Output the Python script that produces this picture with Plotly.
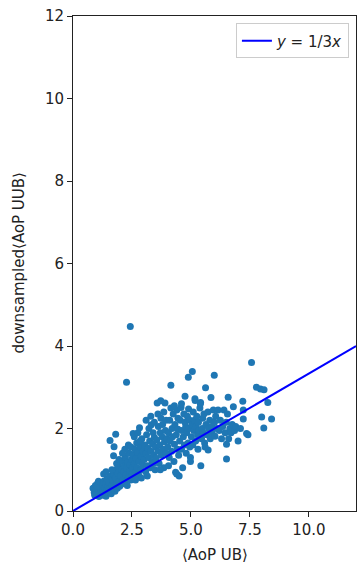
import plotly.graph_objects as go

# Scatter data (x = <AoP UB>, y = downsampled<AoP UUB>)
pts = [
    # x 0.8-1.2
    (0.85,0.55),(0.9,0.45),(0.95,0.62),(1.0,0.4),(1.0,0.52),(1.05,0.68),(1.1,0.35),(1.1,0.47),
    (1.12,0.58),(1.15,0.42),(1.18,0.66),(1.2,0.5),(0.92,0.38),(1.02,0.6),(1.08,0.72),
    # x 1.2-1.6
    (1.25,0.38),(1.25,0.62),(1.28,0.5),(1.3,0.72),(1.32,0.44),(1.35,0.56),(1.38,0.66),(1.4,0.36),
    (1.42,0.5),(1.45,0.78),(1.48,0.6),(1.5,0.45),(1.52,0.7),(1.55,0.54),(1.58,0.85),(1.3,0.9),
    (1.4,0.95),(1.57,1.71),(1.72,1.34),(1.74,1.56),(1.81,1.86),
    # x 1.6-2.0
    (1.62,0.42),(1.65,0.62),(1.68,0.75),(1.7,0.52),(1.72,0.9),(1.75,0.6),(1.78,0.48),(1.8,0.8),
    (1.82,1.0),(1.85,0.65),(1.88,0.55),(1.9,0.92),(1.92,1.08),(1.95,0.72),(1.98,0.6),(1.65,1.0),
    (1.85,1.15),(1.95,1.25),
    # x 2.0-2.5
    (2.02,0.85),(2.05,0.65),(2.08,1.0),(2.1,1.2),(2.12,0.75),(2.15,0.95),(2.18,1.1),(2.2,0.7),
    (2.22,1.3),(2.25,0.88),(2.28,1.05),(2.3,0.62),(2.32,1.18),(2.35,0.8),(2.38,1.4),(2.4,0.98),
    (2.42,1.12),(2.45,0.75),(2.48,1.25),(2.5,0.9),(2.27,3.12),(2.43,4.47),(2.55,1.88),(2.2,1.5),
    (2.35,1.6),(2.1,1.4),(2.45,1.55),
    # x 2.5-3.0
    (2.52,1.05),(2.55,1.35),(2.58,0.82),(2.6,1.15),(2.62,1.5),(2.65,0.95),(2.68,1.28),(2.7,1.65),
    (2.72,1.05),(2.75,1.42),(2.78,0.88),(2.8,1.2),(2.82,2.02),(2.85,1.55),(2.88,1.0),(2.9,1.32),
    (2.92,1.75),(2.95,1.12),(2.98,1.45),(2.6,1.8),(2.75,1.9),(2.9,0.8),(2.65,0.75),(2.85,1.7),
    # x 3.0-3.5
    (3.02,1.25),(3.05,1.6),(3.08,0.95),(3.1,1.4),(3.12,1.85),(3.15,1.1),(3.18,1.52),(3.2,1.3),
    (3.22,2.0),(3.25,1.7),(3.28,1.05),(3.3,1.45),(3.32,2.09),(3.35,1.2),(3.38,1.62),(3.4,1.9),
    (3.42,1.35),(3.45,1.78),(3.48,1.0),(3.5,1.55),(3.1,2.2),(3.3,2.3),(3.15,0.85),(3.45,2.15),
    (3.4,1.15),
    # x 3.5-4.0
    (3.52,1.28),(3.55,1.72),(3.57,2.62),(3.6,1.45),(3.62,2.05),(3.65,1.15),(3.68,1.6),(3.7,1.9),
    (3.72,2.67),(3.73,2.25),(3.75,1.35),(3.78,1.8),(3.8,2.1),(3.82,1.5),(3.85,1.05),(3.88,1.68),
    (3.9,2.62),(3.92,1.95),(3.95,1.4),(3.98,1.75),(3.6,2.35),(3.85,2.4),(3.7,1.0),(3.95,2.2),
    # x 4.0-4.5
    (4.02,1.55),(4.05,1.9),(4.08,1.3),(4.1,2.2),(4.12,1.7),(4.15,3.05),(4.18,1.45),(4.2,2.0),
    (4.22,1.8),(4.25,2.35),(4.28,1.2),(4.3,1.62),(4.32,2.1),(4.35,0.94),(4.38,1.85),(4.4,2.45),
    (4.42,1.5),(4.45,1.98),(4.48,1.35),(4.5,0.85),(4.4,0.9),(4.15,2.5),(4.3,2.55),(4.45,2.25),
    (4.05,1.1),
    # x 4.5-5.0
    (4.52,1.7),(4.55,2.2),(4.58,2.51),(4.6,1.5),(4.62,1.95),(4.65,1.05),(4.68,1.8),(4.7,2.35),
    (4.72,1.6),(4.75,2.78),(4.78,2.05),(4.8,1.4),(4.82,1.9),(4.85,2.3),(4.88,1.65),(4.89,3.24),
    (4.9,2.47),(4.92,2.0),(4.95,1.55),(4.98,1.3),(4.98,1.2),(4.6,2.6),(4.75,2.15),(4.95,2.2),
    # x 5.0-5.5
    (5.02,1.8),(5.06,3.38),(5.05,2.1),(5.08,1.6),(5.1,2.4),(5.12,1.95),(5.15,2.2),(5.17,2.72),
    (5.18,2.68),(5.2,1.7),(5.22,2.05),(5.25,2.3),(5.28,1.85),(5.3,1.5),(5.32,2.15),(5.35,1.95),
    (5.38,2.5),(5.41,2.63),(5.42,1.1),(5.45,1.75),(5.48,2.0),(5.5,2.25),(5.4,2.6),
    # x 5.5-6.0
    (5.52,1.9),(5.55,2.35),(5.58,1.65),(5.62,2.99),(5.64,2.1),(5.68,1.85),(5.72,2.4),(5.73,1.48),
    (5.75,2.0),(5.8,2.2),(5.82,1.75),(5.85,2.75),(5.88,2.05),(5.9,1.9),(5.95,2.45),(5.99,3.29),
    (6.0,2.15),(5.6,1.55),
    # x 6.0-6.5
    (6.02,1.81),(6.05,2.3),(6.1,2.0),(6.15,2.45),(6.2,1.95),(6.25,2.2),(6.3,1.75),(6.35,2.05),
    (6.4,2.45),(6.45,1.9),(6.5,2.15),
    # x 6.5-7.0
    (6.51,1.26),(6.51,1.62),(6.58,2.76),(6.6,1.75),(6.65,2.0),(6.7,1.9),(6.75,2.1),(6.8,2.53),
    (6.85,1.95),(6.9,2.05),(6.55,2.35),
    # x 7.0-8.5
    (7.2,2.66),(7.22,2.45),(7.22,2.23),(7.36,1.88),(7.42,1.85),(7.57,3.60),(7.78,3.0),(7.95,2.96),
    (8.1,2.94),(8.26,2.63),(8.0,2.28),(8.42,2.23),(8.09,2.01),(7.1,2.0),(7.0,1.7),
]
x_vals = [p[0] for p in pts]
y_vals = [p[1] for p in pts]

slope = 1 / 3
line_x = [0, 12]
line_y = [v * slope for v in line_x]

x_ticks = [0, 2.5, 5, 7.5, 10]
x_tick_labels = ["0.0", "2.5", "5.0", "7.5", "10.0"]
y_ticks = [0, 2, 4, 6, 8, 10, 12]

FONT = "DejaVu Sans"
TXT = "#222222"

fig = go.Figure()
fig.add_trace(go.Scatter(
    x=x_vals, y=y_vals, mode="markers",
    marker=dict(color="#1f77b4", size=7, line=dict(width=0)),
    showlegend=False,
))
fig.add_trace(go.Scatter(
    x=line_x, y=line_y, mode="lines",
    line=dict(color="#0000ff", width=2),
    name="<i>y</i> = 1/3<i>x</i>",
))

axis_common = dict(
    showgrid=False, zeroline=False, showline=True, linecolor="#222222", linewidth=1,
    mirror=True, ticks="outside", ticklen=5, tickcolor="#222222", automargin=False,
    ticklabeloverflow="allow",
    tickfont=dict(family=FONT, size=15, color=TXT),
)
fig.update_xaxes(range=[0, 12], tickvals=x_ticks, ticktext=x_tick_labels, **axis_common)
fig.update_yaxes(range=[0, 12], tickvals=y_ticks, **axis_common)

fig.add_annotation(text="⟨AoP UB⟩", xref="paper", yref="paper", x=0.5, y=0,
                   yshift=-44, showarrow=False, yanchor="middle",
                   font=dict(family=FONT, size=15, color=TXT))
fig.add_annotation(text="downsampled⟨AoP UUB⟩", xref="paper", yref="paper", x=0, y=0.5,
                   xshift=-55, showarrow=False, textangle=-90, xanchor="center",
                   font=dict(family=FONT, size=15, color=TXT))

fig.update_layout(
    width=358, height=569,
    margin=dict(l=73, r=2, t=16, b=58),
    plot_bgcolor="white", paper_bgcolor="white",
    legend=dict(x=0.975, y=0.985, xanchor="right", yanchor="top",
                bgcolor="rgba(255,255,255,0.8)", bordercolor="#cccccc", borderwidth=1,
                font=dict(family=FONT, size=15, color=TXT)),
)

# remove the default page margin so the figure fills the window exactly
fig.write_html(
    "out.html",
    config={"displayModeBar": False},
    post_script="document.body.style.margin='0';document.body.style.overflow='hidden';",
)
